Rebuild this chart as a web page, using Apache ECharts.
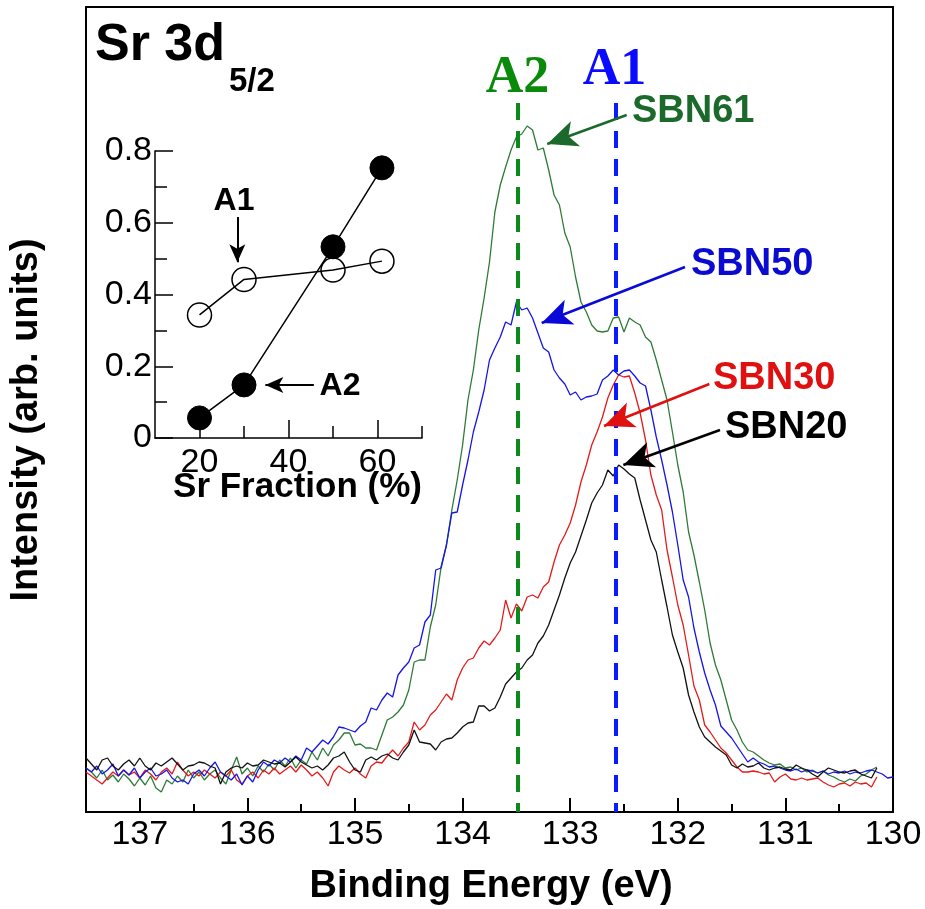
<!DOCTYPE html>
<html><head><meta charset="utf-8">
<script src="https://cdn.jsdelivr.net/npm/echarts@6/dist/echarts.min.js"></script>
<style>html,body{margin:0;padding:0;background:#fff}#c{width:925px;height:909px}</style>
</head><body><div id="c"></div>
<script>
// Binding energy grid (eV)
var energy = [137.5,137.45,137.4,137.35,137.3,137.25,137.2,137.15,137.1,137.05,
137.0,136.95,136.9,136.85,136.8,136.75,136.7,136.65,136.6,136.55,
136.5,136.45,136.4,136.35,136.3,136.25,136.2,136.15,136.1,136.05,
136.0,135.95,135.9,135.85,135.8,135.75,135.7,135.65,135.6,135.55,
135.5,135.45,135.4,135.35,135.3,135.25,135.2,135.15,135.1,135.05,
135.0,134.95,134.9,134.85,134.8,134.75,134.7,134.65,134.6,134.55,
134.5,134.45,134.4,134.35,134.3,134.25,134.2,134.15,134.1,134.05,
134.0,133.95,133.9,133.85,133.8,133.75,133.7,133.65,133.6,133.55,
133.5,133.45,133.4,133.35,133.3,133.25,133.2,133.15,133.1,133.05,
133.0,132.95,132.9,132.85,132.8,132.75,132.7,132.65,132.6,132.55,
132.5,132.45,132.4,132.35,132.3,132.25,132.2,132.15,132.1,132.05,
132.0,131.95,131.9,131.85,131.8,131.75,131.7,131.65,131.6,131.55,
131.5,131.45,131.4,131.35,131.3,131.25,131.2,131.15,131.1,131.05,
131.0,130.95,130.9,130.85,130.8,130.75,130.7,130.65,130.6,130.55,
130.5,130.45,130.4,130.35,130.3,130.25,130.2,130.15,130.1,130.05,130.0];

// Intensities (arb. units)
var sbn61 = [44,40,34,42,32,37,30,38,33,26,
34,27,36,24,20,32,28,36,30,42,
34,40,32,38,42,34,28,42,55,38,
44,36,46,40,48,42,52,46,54,44,
52,48,60,52,64,56,67,72,79,79,
67,68,64,64,62,77,92,95,100,107,
122,150,152,152,185,207,245,267,302,332,
367,412,442,482,514,550,600,627,645,662,
675,678,686,682,662,664,642,617,607,579,
565,535,510,500,487,481,480,481,494,495,
480,494,490,487,475,470,452,432,412,380,
347,320,280,257,230,202,169,147,132,112,
92,82,70,62,60,56,52,49,47,48,
44,45,42,44,40,42,39,41,37,35,
32,30,33,31,36,38,42,45,null,null,null];

var sbn50 = [44,40,46,38,42,48,36,42,37,44,
34,40,44,36,38,42,34,30,32,28,
38,42,36,44,50,40,36,32,38,27,
36,30,42,50,46,52,49,54,50,56,
52,64,60,66,72,68,75,85,84,82,
80,86,90,104,102,112,119,115,137,144,
150,164,167,190,197,242,244,267,299,300,
327,352,380,400,422,452,464,475,490,487,
510,502,504,494,479,464,460,442,434,428,
417,420,412,415,416,418,432,436,442,437,
441,442,436,429,426,402,375,352,327,300,
267,232,215,184,160,139,122,107,86,80,
74,66,58,50,54,50,48,45,46,44,
42,41,43,40,42,41,39,41,38,40,
39,41,38,40,39,41,42,40,38,34,35];

var sbn30 = [40,36,32,28,34,40,36,42,37,40,
34,42,38,32,40,44,38,50,42,36,
40,36,42,38,34,40,36,42,32,28,
36,40,34,42,38,44,38,42,46,40,
47,42,36,40,34,26,40,46,42,39,
44,38,34,46,50,49,56,62,56,64,
70,90,82,87,97,102,110,118,112,132,
144,152,154,164,171,167,174,182,212,194,
208,201,215,217,214,225,230,250,267,277,
289,307,330,347,367,380,395,414,427,437,
435,436,419,399,372,337,317,302,262,235,
207,187,157,126,112,87,80,72,64,59,
52,45,40,40,41,40,38,39,30,35,
38,33,32,34,32,33,34,30,27,25,
28,29,26,30,28,29,25,35,null,null,null];

var sbn20 = [54,48,42,52,54,46,42,48,52,46,
54,46,42,49,46,50,54,48,42,46,
47,50,49,46,44,28,40,44,46,44,
49,46,47,52,50,48,49,45,50,55,
50,47,44,46,42,47,54,56,60,50,
42,40,52,55,52,56,58,54,52,60,
67,82,70,69,68,62,70,73,74,79,
85,89,90,106,106,101,104,115,128,134,
140,144,152,157,169,176,187,202,217,234,
249,260,276,292,309,319,327,342,336,347,
343,338,334,312,292,272,260,232,205,177,
160,144,117,100,85,75,70,65,61,57,
47,44,48,45,46,49,44,42,44,45,
43,42,47,44,42,38,35,40,44,42,
40,39,41,42,38,36,34,44,null,null,null];

// Peak positions (eV)
var peakA2 = 133.49, peakA1 = 132.58;

// Axis ticks
var xMajor = [130,131,132,133,134,135,136,137];
var xMinor = [130.5,131.5,132.5,133.5,134.5,135.5,136.5];

// Inset data: Sr fraction (%) vs peak weight
var srFraction = [20,30,50,61];
var insetA1 = [0.343,0.442,0.468,0.493];
var insetA2 = [0.056,0.148,0.533,0.753];
var insetXMajor = [20,40,60];
var insetXMinor = [30,50,70];

function pairs(xs, ys){ var o=[]; for(var i=0;i<xs.length;i++){ o.push([xs[i], ys[i]]); } return o; }

var SANS = "'Liberation Sans', Arial, Helvetica, sans-serif";
var SERIF = "'Liberation Serif', 'Times New Roman', serif";

var chart = echarts.init(document.getElementById('c'), null, {renderer:'canvas'});

function txt(text, x, y, size, color, align, opts){
  opts = opts || {};
  return {type:'text', x:x, y:y, rotation: opts.rotation||0, z:100,
    style:{text:text, fill:color, font:(opts.weight||'bold')+' '+size+'px '+(opts.family||SANS),
      align:align, textAlign:align, verticalAlign:'middle', textVerticalAlign:'middle'}};
}

var green='#2f7a37', blue='#1515e6', red='#e31b1b', black='#111';

var option = {
  animation:false,
  backgroundColor:'#fff',
  grid:[
    {left:86, top:7, right:32, bottom:97, show:true, borderColor:'#000', borderWidth:2, backgroundColor:'transparent'},
    {left:86, top:7, right:32, bottom:97, show:false},
    {left:155, top:151, right:503, bottom:471, show:false},
    {left:155, top:151, right:503, bottom:471, show:false}
  ],
  xAxis:[
    {gridIndex:0, type:'value', min:130, max:137.5, inverse:true,
     axisLine:{show:true, lineStyle:{color:'#000', width:2}},
     axisTick:{show:true, inside:true, length:14, lineStyle:{color:'#000', width:2}, customValues:xMajor},
     axisLabel:{show:true, customValues:xMajor, fontSize:34, fontFamily:SANS, color:'#000', margin:6},
     splitLine:{show:false}},
    {gridIndex:1, type:'value', min:130, max:137.5, inverse:true,
     axisLine:{show:false},
     axisTick:{show:true, inside:true, length:8, lineStyle:{color:'#000', width:2}, customValues:xMinor},
     axisLabel:{show:false}, splitLine:{show:false}},
    {gridIndex:2, type:'value', min:10, max:70,
     axisLine:{show:true, lineStyle:{color:'#000', width:1.5}},
     axisTick:{show:true, inside:true, length:18, lineStyle:{color:'#000', width:1.5}, customValues:insetXMajor},
     axisLabel:{show:true, customValues:insetXMajor, fontSize:34, fontFamily:SANS, color:'#000', margin:8},
     splitLine:{show:false}},
    {gridIndex:3, type:'value', min:10, max:70,
     axisLine:{show:false},
     axisTick:{show:true, inside:true, length:12, lineStyle:{color:'#000', width:1.5}, customValues:insetXMinor},
     axisLabel:{show:false}, splitLine:{show:false}}
  ],
  yAxis:[
    {gridIndex:0, type:'value', min:0, max:805, show:false},
    {gridIndex:1, type:'value', min:0, max:805, show:false},
    {gridIndex:2, type:'value', min:0, max:0.8, interval:0.2,
     axisLine:{show:true, lineStyle:{color:'#000', width:1.5}},
     axisTick:{show:true, inside:true, length:18, lineStyle:{color:'#000', width:1.5}},
     minorTick:{show:true, splitNumber:2, length:12, lineStyle:{color:'#000', width:1.5}},
     axisLabel:{show:true, fontSize:34, fontFamily:SANS, color:'#000', margin:3},
     splitLine:{show:false}},
    {gridIndex:3, type:'value', min:0, max:0.8, show:false}
  ],
  series:[
    {name:'SBN61', type:'line', xAxisIndex:0, yAxisIndex:0, data:pairs(energy,sbn61), showSymbol:false,
     lineStyle:{color:green, width:1.3}, itemStyle:{color:green}, z:2},
    {name:'SBN30', type:'line', xAxisIndex:0, yAxisIndex:0, data:pairs(energy,sbn30), showSymbol:false,
     lineStyle:{color:red, width:1.3}, itemStyle:{color:red}, z:3},
    {name:'SBN50', type:'line', xAxisIndex:0, yAxisIndex:0, data:pairs(energy,sbn50), showSymbol:false,
     lineStyle:{color:blue, width:1.3}, itemStyle:{color:blue}, z:4},
    {name:'SBN20', type:'line', xAxisIndex:0, yAxisIndex:0, data:pairs(energy,sbn20), showSymbol:false,
     lineStyle:{color:black, width:1.3}, itemStyle:{color:black}, z:5,
     markLine:{silent:true, symbol:['none','none'], label:{show:false}, z:10,
       data:[
         [{coord:[peakA2,709], lineStyle:{color:'#0a8a1a', width:4, type:[17,11]}},{coord:[peakA2,0]}],
         [{coord:[peakA1,709], lineStyle:{color:'#0a1aff', width:4, type:[17,11]}},{coord:[peakA1,0]}]
       ]}},
    {name:'arrows', type:'line', xAxisIndex:0, yAxisIndex:0, data:[], z:11,
     markLine:{silent:true, symbol:['none','arrow'], symbolSize:[20,30], label:{show:false}, z:11,
       data:[
         [{coord:[132.475,697], lineStyle:{color:'#1b6a2b', width:2.5, type:'solid'}},{coord:[133.213,668]}],
         [{coord:[131.933,545], lineStyle:{color:'#0a0ad8', width:2.5, type:'solid'}},{coord:[133.265,489]}],
         [{coord:[131.707,428], lineStyle:{color:'#e01010', width:2.5, type:'solid'}},{coord:[132.686,386]}],
         [{coord:[131.608,382], lineStyle:{color:'#000', width:2.5, type:'solid'}},{coord:[132.506,347]}]
       ]}},
    {name:'A1', type:'line', xAxisIndex:2, yAxisIndex:2, data:pairs(srFraction,insetA1),
     symbol:'circle', symbolSize:24, showSymbol:true,
     lineStyle:{color:'#000', width:1.5}, itemStyle:{color:'rgba(255,255,255,0)', borderColor:'#000', borderWidth:1.5}, z:6},
    {name:'A2', type:'line', xAxisIndex:2, yAxisIndex:2, data:pairs(srFraction,insetA2),
     symbol:'circle', symbolSize:24, showSymbol:true,
     lineStyle:{color:'#000', width:1.5}, itemStyle:{color:'#000', borderColor:'#000', borderWidth:1}, z:7,
     markLine:{silent:true, symbol:['none','arrow'], symbolSize:[12,18], label:{show:false},
       data:[
         [{coord:[28.5,0.616], lineStyle:{color:'#000', width:2, type:'solid'}},{coord:[28.5,0.49]}],
         [{coord:[45.7,0.148], lineStyle:{color:'#000', width:2, type:'solid'}},{coord:[34.8,0.148]}]
       ]}}
  ],
  graphic:[
    txt('Sr 3d', 95, 46, 52, '#000', 'left'),
    txt('5/2', 229, 82, 33, '#000', 'left'),
    txt('A2', 517.5, 79, 52, '#0a8a0a', 'center', {family:SERIF}),
    txt('A1', 614.5, 71, 52, '#0a0aff', 'center', {family:SERIF}),
    txt('SBN61', 632, 111.5, 38, '#1b6a2b', 'left'),
    txt('SBN50', 691, 265, 38, '#0a0ad0', 'left'),
    txt('SBN30', 713, 379, 38, '#e01010', 'left'),
    txt('SBN20', 725, 428, 38, '#000', 'left'),
    txt('A1', 234, 201, 32, '#000', 'center'),
    txt('A2', 340, 386.5, 32, '#000', 'center'),
    txt('Sr Fraction (%)', 297.5, 487.5, 35, '#000', 'center'),
    txt('Binding Energy (eV)', 491, 886.5, 38, '#000', 'center'),
    txt('Intensity (arb. units)', 27, 420, 38, '#000', 'center', {rotation:Math.PI/2})
  ]
};
chart.setOption(option);
</script>
</body></html>
